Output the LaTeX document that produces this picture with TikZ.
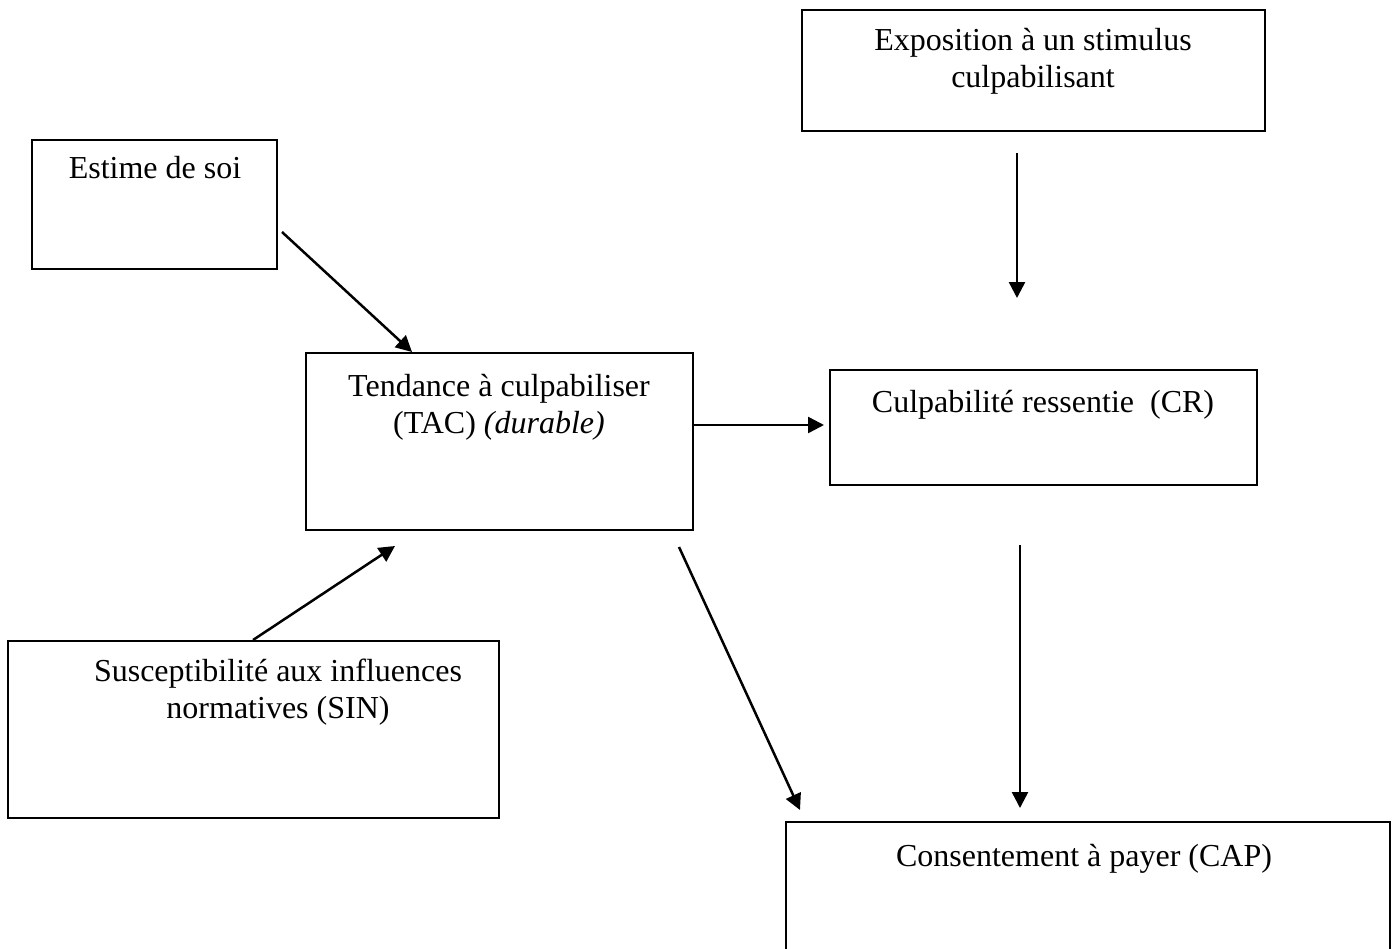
\documentclass[tikz,border=0pt]{standalone}
\usepackage{fontspec}
\setmainfont{Liberation Serif}
\usetikzlibrary{arrows.meta}
\tikzset{
  boxst/.style={draw=black, line width=2.2pt},
  lbl/.style={font=\fontsize{32}{37}\selectfont, align=center, anchor=north, inner sep=0pt},
  arr/.style={line width=2.5pt, -{Triangle[length=16pt,width=16pt]}}
}
\begin{document}
\begin{tikzpicture}[x=1pt,y=-1pt]
\useasboundingbox (0,0) rectangle (1392,948);
% boxes
\draw[boxst] (802,10) rectangle (1265,131);
\node[inner sep=0pt] (expo) at (1033.5,70.5) {};
\draw[boxst] (32,140) rectangle (277,269);
\node[inner sep=0pt] (estime) at (154.5,204.5) {};
\draw[boxst] (306,353) rectangle (693,530);
\node[inner sep=0pt] (tac) at (499.5,441.5) {};
\draw[boxst] (830,370) rectangle (1257,485);
\node[inner sep=0pt] (cr) at (1043.5,427.5) {};
\draw[boxst] (8,641) rectangle (499,818);
\node[inner sep=0pt] (sin) at (253.5,729.5) {};
\draw[boxst] (786,822) rectangle (1390,960);
\node[inner sep=0pt] (cap) at (1088,885) {};
% texts
\node[lbl] (texpo) at (1033,24) {\strut Exposition à un stimulus\\culpabilisant};
\node[lbl] (testime) at (155,152) {\strut Estime de soi};
\node[lbl] (ttac) at (499,370) {\strut Tendance à culpabiliser\\(TAC) \textit{(durable)}};
\node[lbl] (tcr) at (1043,386) {\strut Culpabilité ressentie\ \ (CR)};
\node[lbl] (tsin) at (278,655) {\strut Susceptibilité aux influences\\normatives (SIN)};
\node[lbl] (tcap) at (1084,840) {\strut Consentement à payer (CAP)};
% connector end points
\coordinate (a1) at (282,232); \coordinate (b1) at (412,352);
\coordinate (a2) at (253,640); \coordinate (b2) at (395,546);
\coordinate (a3) at (693,425); \coordinate (b3) at (824,425);
\coordinate (a4) at (1017,153); \coordinate (b4) at (1017,298);
\coordinate (a5) at (1020,545); \coordinate (b5) at (1020,808);
\coordinate (a6) at (679,547); \coordinate (b6) at (800,810);
\draw[arr] (a1) -- (b1);
\draw[arr] (a2) -- (b2);
\draw[arr] (a3) -- (b3);
\draw[arr] (a4) -- (b4);
\draw[arr] (a5) -- (b5);
\draw[arr] (a6) -- (b6);
\end{tikzpicture}
\end{document}
